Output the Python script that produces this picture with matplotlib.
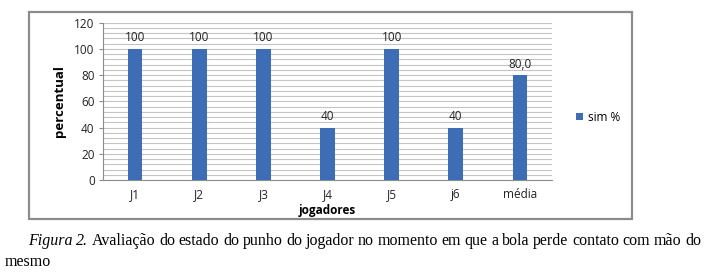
import matplotlib.pyplot as plt
import matplotlib.patches as mpatches
import numpy as np

## data
categorias = ["J1", "J2", "J3", "J4", "J5", "j6", "média"]
sim_pct = [100, 100, 100, 40, 100, 40, 80.0]
rotulos = ["100", "100", "100", "40", "100", "40", "80,0"]
y_ticks = [0, 20, 40, 60, 80, 100, 120]

## parameters
fs0 = 8.5
fs_cap = 11.5
bar_color = "#3d6db5"
grid_color = "#c4c4c4"
font_chart = "Open Sans"
font_cap = "Liberation Serif"

fig = plt.figure(figsize=(7.05, 2.76), dpi=100)

# chart frame
frame = mpatches.Rectangle((29 / 705, 1 - 219 / 276), 603 / 705, 207 / 276,
                           transform=fig.transFigure, fill=False,
                           edgecolor="#8c8c8c", linewidth=1.6, zorder=0)
fig.patches.append(frame)

ax = fig.add_axes([103 / 705, 1 - 180 / 276, 449 / 705, 157.3 / 276])

x = np.arange(len(categorias))
bars = ax.bar(x, sim_pct, 0.23, color=bar_color, label="sim %", zorder=3)

for xi, v, r in zip(x, sim_pct, rotulos):
    ax.text(xi, v + 3.5, r, ha="center", va="bottom", fontsize=fs0,
            family=font_chart, color="#222222")

ax.set_xlim(-0.5, len(categorias) - 0.5)
ax.set_ylim(0, 120)
ax.set_yticks(y_ticks)
ax.set_yticks(np.arange(0, 121, 4), minor=True)
ax.set_xticks(x, categorias)

ax.grid(axis="y", which="both", color=grid_color, linewidth=0.8, zorder=0)
ax.set_axisbelow(True)

for s in ["top", "right"]:
    ax.spines[s].set_visible(False)
for s in ["left", "bottom"]:
    ax.spines[s].set_color("#8c8c8c")
    ax.spines[s].set_linewidth(0.8)

ax.tick_params(axis="y", which="major", length=3, color="#8c8c8c",
               labelsize=fs0, pad=3, labelcolor="#222222")
ax.tick_params(axis="y", which="minor", length=0)
ax.tick_params(axis="x", length=0, labelsize=fs0, pad=6, labelcolor="#222222")
for lab in ax.get_xticklabels() + ax.get_yticklabels():
    lab.set_family(font_chart)

ax.set_xlabel("jogadores", fontsize=fs0, fontweight="bold", family=font_chart,
              labelpad=2)
ax.set_ylabel("percentual", fontsize=fs0 + 1, fontweight="bold",
              family=font_chart, labelpad=6)

ax.legend(loc="center left", bbox_to_anchor=(1.03, 0.4), frameon=False,
          prop={"family": font_chart, "size": fs0}, handlelength=0.6,
          handleheight=0.6, handletextpad=0.4)

# caption, first line justified between x0 and x1
renderer = fig.canvas.get_renderer()
words = [("Figura", "italic"), ("2.", "italic")] + [
    (w, "normal") for w in
    "Avaliação do estado do punho do jogador no momento em que a bola perde contato com mão do".split()]
x0, x1 = 28, 701
y_line1 = 1 - 245 / 276
arts = []
for w, st in words:
    t = fig.text(0, y_line1, w, style=st, fontsize=fs_cap, family=font_cap,
                 va="baseline")
    arts.append(t)
widths = [t.get_window_extent(renderer).width for t in arts]
gap = (x1 - x0 - sum(widths)) / (len(words) - 1)
pos = x0
for t, w in zip(arts, widths):
    t.set_x(pos / 705)
    pos += w + gap

fig.text(5 / 705, 1 - 266 / 276, "mesmo", fontsize=fs_cap,
         family=font_cap, va="baseline")

fig.savefig("out.png", dpi=100)
